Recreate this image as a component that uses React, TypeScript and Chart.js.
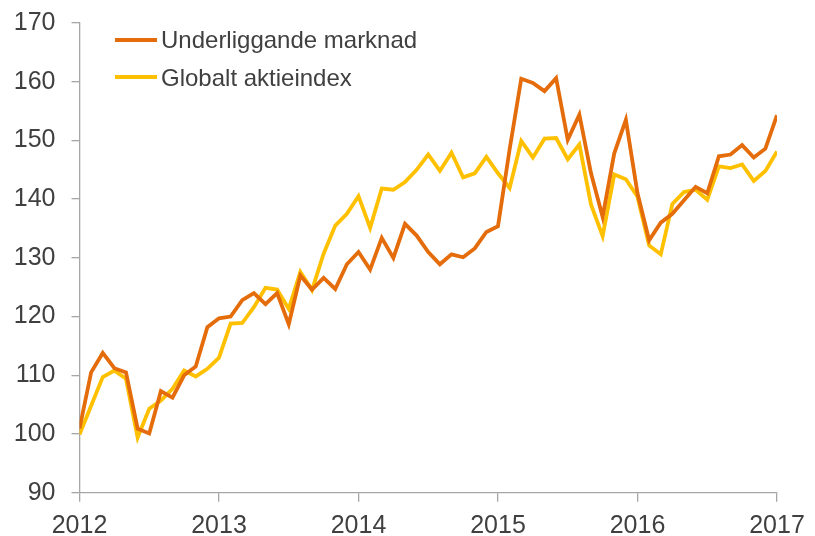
import React, { useEffect, useRef } from "react";
import { Chart, registerables } from "chart.js";

Chart.register(...registerables);

const yearLabels = ["2012", "2013", "2014", "2015", "2016", "2017"];
const seriesNames = ["Underliggande marknad", "Globalt aktieindex"];
const seriesColors = ["#E46C0A", "#FFC000"];

const underliggande = [
  100.9, 110.5, 113.8, 111.2, 110.5, 100.9, 100.1, 107.3, 106.2, 110.0, 111.5, 118.2,
  119.7, 120.0, 122.8, 124.0, 122.1, 124.0, 118.7, 127.0, 124.6, 126.6, 124.7, 128.9,
  131.0, 128.0, 133.4, 130.0, 135.8, 133.8, 131.0, 128.9, 130.6, 130.1, 131.6, 134.4,
  135.4, 148.5, 160.5, 159.8, 158.4, 160.6, 150.1, 154.4, 144.4, 137.0, 147.8, 153.5,
  141.0, 133.0, 136.0, 137.5, 139.8, 142.1, 141.0, 147.3, 147.6, 149.2, 147.1, 148.6,
  154.3,
];

const globalt = [
  99.9, 104.8, 109.7, 110.8, 109.4, 99.4, 104.3, 105.7, 107.7, 110.8, 109.8, 111.1,
  113.0, 118.8, 118.9, 121.6, 124.9, 124.6, 121.3, 127.6, 124.5, 130.7, 135.5, 137.5,
  140.5, 135.1, 141.8, 141.6, 142.9, 145.0, 147.6, 144.8, 147.9, 143.7, 144.4, 147.2,
  144.4, 141.9, 149.9, 147.1, 150.3, 150.4, 146.8, 149.3, 139.1, 133.7, 144.2, 143.4,
  140.4, 132.1, 130.6, 139.2, 141.2, 141.6, 139.9, 145.6, 145.3, 145.9, 143.1, 144.8,
  148.1,
];

const yMin = 90;
const yMax = 170;
const yStep = 10;
const monthsPerYear = 12;

const FONT = "'Liberation Sans', Arial, sans-serif";
const TEXT = "#404040";
const AXIS = "#a6a6a6";

const legendPlugin = {
  id: "insideLegend",
  afterDraw(chart: any) {
    const ctx = chart.ctx;
    ctx.save();
    const rows = [
      { lineY: 40, textY: 47.5 },
      { lineY: 77, textY: 85.5 },
    ];
    chart.data.datasets.forEach((ds: any, i: number) => {
      const r = rows[i];
      ctx.strokeStyle = ds.borderColor;
      ctx.lineWidth = 4;
      ctx.lineCap = "butt";
      ctx.beginPath();
      ctx.moveTo(115, r.lineY);
      ctx.lineTo(157, r.lineY);
      ctx.stroke();
      ctx.fillStyle = TEXT;
      ctx.font = `24px ${FONT}`;
      ctx.textAlign = "left";
      ctx.textBaseline = "alphabetic";
      ctx.fillText(ds.label, 161, r.textY);
    });
    ctx.restore();
  },
};

export default function App() {
  const ref = useRef<HTMLCanvasElement | null>(null);

  useEffect(() => {
    document.body.style.margin = "0";
    const canvas = ref.current;
    if (!canvas) return;
    const toPts = (arr: number[]) => arr.map((v, i) => ({ x: i, y: v }));
    const chart = new Chart(canvas, {
      type: "line",
      data: {
        datasets: [
          {
            label: seriesNames[0],
            data: toPts(underliggande),
            borderColor: seriesColors[0],
            backgroundColor: seriesColors[0],
            borderWidth: 3.8,
            pointRadius: 0,
            tension: 0,
            borderJoinStyle: "miter",
          },
          {
            label: seriesNames[1],
            data: toPts(globalt),
            borderColor: seriesColors[1],
            backgroundColor: seriesColors[1],
            borderWidth: 3.8,
            pointRadius: 0,
            tension: 0,
            borderJoinStyle: "miter",
          },
        ],
      },
      options: {
        animation: false,
        responsive: false,
        maintainAspectRatio: false,
        devicePixelRatio: 1,
        layout: { padding: { top: 23, right: 38, bottom: 0, left: 0 } },
        plugins: {
          legend: { display: false },
          tooltip: { enabled: false },
        },
        scales: {
          x: {
            type: "linear",
            min: 0,
            max: (yearLabels.length - 1) * monthsPerYear,
            afterFit: (s: any) => {
              s.height = 43.3;
              s.paddingLeft = 0;
              s.paddingRight = 0;
            },
            afterBuildTicks: (s: any) => {
              s.ticks = yearLabels.map((_, i) => ({ value: i * monthsPerYear }));
            },
            ticks: {
              autoSkip: false,
              maxRotation: 0,
              color: TEXT,
              font: { size: 25, family: FONT },
              padding: 9,
              callback: (v: any) => yearLabels[Math.round(Number(v) / monthsPerYear)],
            },
            grid: {
              display: true,
              drawOnChartArea: false,
              drawTicks: true,
              tickLength: 9,
              color: AXIS,
              lineWidth: 1.3,
            },
            border: { display: true, color: AXIS, width: 1.3 },
          },
          y: {
            min: yMin,
            max: yMax,
            afterFit: (s: any) => {
              s.width = 79.5;
              s.paddingTop = 0;
              s.paddingBottom = 0;
            },
            ticks: {
              stepSize: yStep,
              color: TEXT,
              font: { size: 25, family: FONT },
              padding: 16,
            },
            grid: {
              display: true,
              drawOnChartArea: false,
              drawTicks: true,
              tickLength: 8,
              color: AXIS,
              lineWidth: 1.3,
            },
            border: { display: true, color: AXIS, width: 1.3 },
          },
        },
      },
      plugins: [legendPlugin],
    } as any);
    return () => chart.destroy();
  }, []);

  return (
    <div style={{ position: "absolute", left: 0, top: 0, width: 815, height: 536, background: "#fff" }}>
      <canvas ref={ref} width={815} height={536} style={{ width: 815, height: 536, display: "block" }} />
    </div>
  );
}
